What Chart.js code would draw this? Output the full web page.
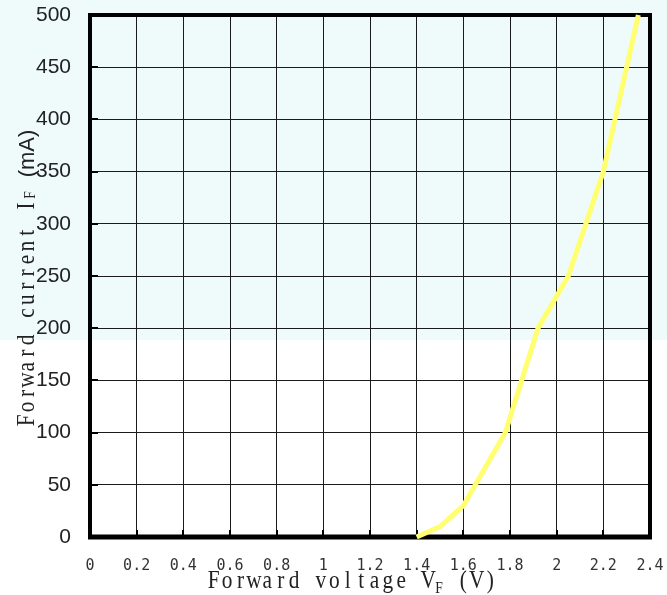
<!DOCTYPE html>
<html>
<head>
<meta charset="utf-8">
<script src="https://cdn.jsdelivr.net/npm/chart.js@4/dist/chart.umd.min.js"></script>
<style>
html,body{margin:0;padding:0;background:#fff;}
#wrap{width:667px;height:595px;position:relative;}
</style>
</head>
<body>
<div id="wrap"><canvas id="c" width="667" height="595"></canvas></div>
<script>
// Data
const voltage = [1.4, 1.5, 1.6, 1.78, 1.92, 2.05, 2.2, 2.35];
const current = [0, 10, 30, 100, 200, 250, 350, 500];
const xTickLabels = ['0','0.2','0.4','0.6','0.8','1','1.2','1.4','1.6','1.8','2','2.2','2.4'];
const yTickLabels = ['0','50','100','150','200','250','300','350','400','450','500'];
const xTitle = [['Forward voltage V','main'],['F','sub'],[' (V)','main']];
const yTitle = [['Forward current I','main'],['F','sub'],[' ','main'],['(mA)','sans']];

// serif text laid out in fixed-width cells (monospace serif look)
const fonts = {
  main: {font:'26px "Liberation Serif"', cell:13.4, sx:0.82},
  sub:  {font:'16px "Liberation Serif"', cell:8.5, sx:0.85},
  sans: {font:'22px "Liberation Sans"', cell:0, sx:1}
};

function drawRich(ctx, x, y, segs, rotate, subDy){
  ctx.save();
  ctx.translate(x, y);
  if (rotate) ctx.rotate(-Math.PI/2);
  ctx.fillStyle = '#222';
  ctx.textBaseline = 'alphabetic';
  let cx = 0;
  for (const [txt, kind] of segs){
    const f = fonts[kind];
    ctx.font = f.font;
    const dy = kind === 'sub' ? subDy : 0;
    if (f.cell) {
      ctx.textAlign = 'center';
      for (const ch of txt) {
        ctx.save();
        ctx.translate(cx + f.cell / 2, dy);
        ctx.scale(f.sx, 1);
        ctx.fillText(ch, 0, 0);
        ctx.restore();
        cx += f.cell;
      }
    } else {
      ctx.textAlign = 'left';
      ctx.fillText(txt, cx, dy);
      cx += ctx.measureText(txt).width;
    }
  }
  ctx.restore();
}

const decor = {
  id: 'decor',
  beforeDraw(chart){
    const ctx = chart.ctx;
    ctx.save();
    ctx.fillStyle = '#ffffff';
    ctx.fillRect(0, 0, chart.width, chart.height);
    ctx.fillStyle = '#effbfb';
    ctx.fillRect(0, 0, chart.width, 340);
    ctx.restore();
  },
  beforeDatasetsDraw(chart){
    const ctx = chart.ctx;
    const a = chart.chartArea;
    const xs = chart.scales.x, ys = chart.scales.y;
    ctx.save();
    ctx.strokeStyle = '#000';
    ctx.lineWidth = 2;
    xs.ticks.forEach(t => {
      const px = Math.round(xs.getPixelForValue(t.value));
      ctx.beginPath(); ctx.moveTo(px, a.bottom); ctx.lineTo(px, a.bottom - 7); ctx.stroke();
    });
    ys.ticks.forEach(t => {
      const py = Math.round(ys.getPixelForValue(t.value));
      ctx.beginPath(); ctx.moveTo(a.left, py); ctx.lineTo(a.left + 8, py); ctx.stroke();
    });
    ctx.lineWidth = 4;
    ctx.beginPath();
    ctx.moveTo(a.left, a.top); ctx.lineTo(a.right, a.top);
    ctx.moveTo(a.right, a.top - 2); ctx.lineTo(a.right, a.bottom + 2);
    ctx.moveTo(a.left, a.top - 2); ctx.lineTo(a.left, a.bottom + 2);
    ctx.stroke();
    ctx.lineWidth = 5;
    ctx.beginPath();
    ctx.moveTo(a.left - 2, a.bottom); ctx.lineTo(a.right + 2, a.bottom);
    ctx.stroke();
    ctx.restore();
  },
  afterDraw(chart){
    const ctx = chart.ctx;
    drawRich(ctx, 207, 588, xTitle, false, 5);
    drawRich(ctx, 34, 427, yTitle, true, 1);
  }
};

new Chart(document.getElementById('c'), {
  type: 'line',
  data: {
    datasets: [{
      data: voltage.map((v, i) => ({x: v, y: current[i]})),
      borderColor: '#ffff70',
      borderWidth: 5,
      pointRadius: 0,
      tension: 0,
      fill: false,
      clip: false,
      borderCapStyle: 'butt'
    }]
  },
  options: {
    responsive: false,
    animation: false,
    devicePixelRatio: 1,
    layout: {padding: {top: 15, right: 17, left: 0, bottom: 0}},
    plugins: {legend: {display: false}, tooltip: {enabled: false}},
    scales: {
      x: {
        type: 'linear', min: 0, max: 2.4,
        afterFit(s){ s.height = 58; s.paddingLeft = 0; s.paddingRight = 0; },
        afterBuildTicks(s){ s.ticks = xTickLabels.map(l => ({value: parseFloat(l)})); },
        ticks: {
          callback: (v, i) => xTickLabels[i],
          font: {family: '"DejaVu Sans Mono"', size: 15},
          color: '#333',
          padding: 20,
          maxRotation: 0,
          autoSkip: false
        },
        grid: {color: '#1a1a1a', lineWidth: 1, drawTicks: false},
        border: {display: false}
      },
      y: {
        type: 'linear', min: 0, max: 500,
        afterFit(s){ s.width = 90; s.paddingTop = 0; s.paddingBottom = 0; },
        afterBuildTicks(s){ s.ticks = yTickLabels.map(l => ({value: parseFloat(l)})); },
        ticks: {
          callback: (v, i) => yTickLabels[i],
          font: {family: '"Liberation Sans"', size: 21},
          color: '#222',
          padding: 19,
          autoSkip: false
        },
        grid: {color: '#1a1a1a', lineWidth: 1, drawTicks: false},
        border: {display: false}
      }
    }
  },
  plugins: [decor]
});
</script>
</body>
</html>
